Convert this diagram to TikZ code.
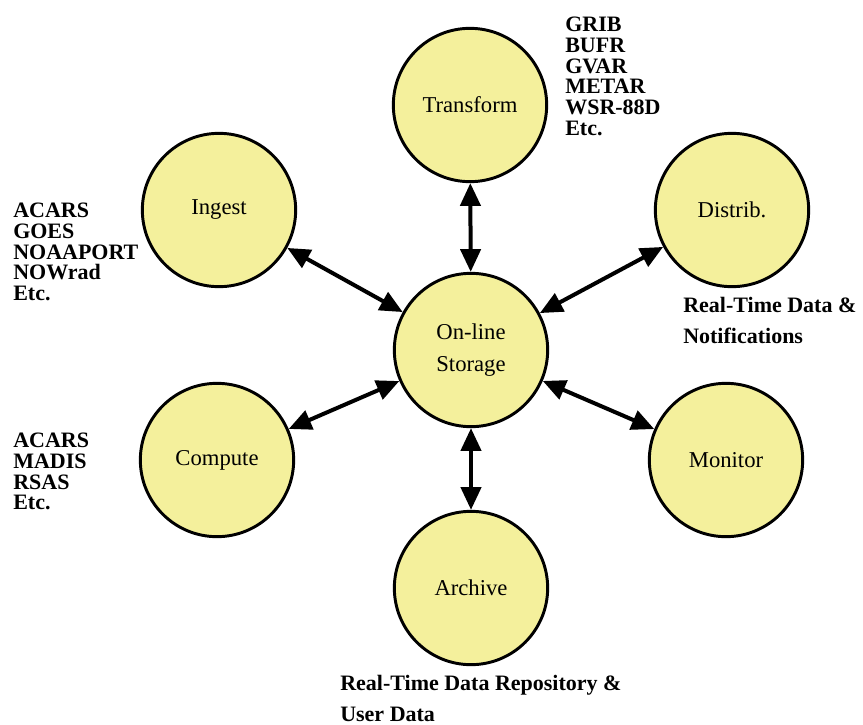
\documentclass[tikz,border=0pt]{standalone}
\usepackage{fontspec}
\setmainfont{Liberation Serif}
\usetikzlibrary{arrows.meta}
\definecolor{padfill}{HTML}{F4F09C}
\tikzset{
  proc/.style={
    circle, draw=black, line width=2.2pt, fill=padfill,
    minimum size=115pt, inner sep=0pt, align=center,
    font=\fontsize{17}{24}\selectfont
  },
  link/.style={<->, >={Triangle[length=17pt,width=15pt]}, draw=black, line width=3pt},
  srclist/.style={anchor=north west, inner sep=0pt, align=left, font=\bfseries\fontsize{16.5}{15.5}\selectfont},
  note/.style={anchor=north west, inner sep=0pt, align=left, font=\bfseries\fontsize{16.5}{23}\selectfont}
}
\begin{document}
\begin{tikzpicture}[x=0.75pt, y=-0.75pt]
  \useasboundingbox (0,0) rectangle (863,724);

  \node[proc] (storage) at (471,350) {On-line\\Storage};
  \node[proc] (transform) at (470,105) {Transform};
  \node[proc] (ingest) at (219,210) {Ingest};
  \node[proc] (distrib) at (732,210) {Distrib.};
  \node[proc] (compute) at (217,460) {Compute};
  \node[proc] (monitor) at (726,460) {Monitor};
  \node[proc] (archive) at (471,588) {Archive};

  \draw[link] (transform) -- (storage);
  \draw[link] (ingest) -- (storage);
  \draw[link] (distrib) -- (storage);
  \draw[link] (compute) -- (storage);
  \draw[link] (monitor) -- (storage);
  \draw[link] (archive) -- (storage);

  \node[srclist] (transformsrc) at (565,17) {GRIB\\BUFR\\GVAR\\METAR\\WSR-88D\\Etc.};
  \node[srclist] (ingestsrc) at (13,203) {ACARS\\GOES\\NOAAPORT\\NOWrad\\Etc.};
  \node[srclist] (computesrc) at (13,433) {ACARS\\MADIS\\RSAS\\Etc.};
  \node[note] (distribnote) at (683,297) {Real-Time Data \&\\Notifications};
  \node[note] (archivenote) at (340,675) {Real-Time Data Repository \&\\User Data};
\end{tikzpicture}
\end{document}
